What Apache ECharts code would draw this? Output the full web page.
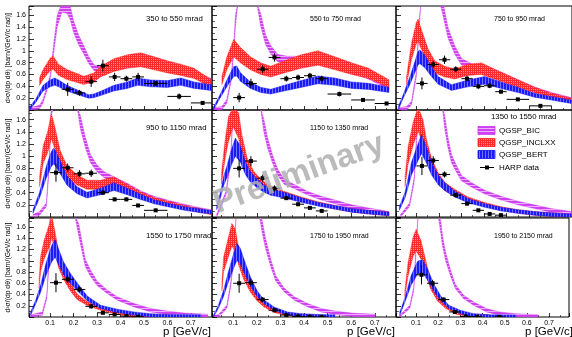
<!DOCTYPE html>
<html>
<head>
<meta charset="utf-8">
<script src="https://cdn.jsdelivr.net/npm/echarts@6/dist/echarts.min.js"></script>
<style>
  html, body { margin: 0; padding: 0; background: #fff; }
  #chart { width: 572px; height: 337px; }
</style>
</head>
<body>
<div id="chart"></div>
<script>
// model bands, knots [p (GeV/c), d2sigma/(dp dtheta)]
var bic350 = [[0.013,0.01],[0.055,0.05],[0.07,0.15],[0.1,0.55],[0.114,1.0],[0.13,1.5],[0.15,1.78],[0.172,1.76],[0.186,1.64],[0.2,1.41],[0.221,1.19],[0.243,1.02],[0.264,0.85],[0.286,0.72],[0.315,0.68],[0.372,0.76],[0.429,0.86],[0.486,0.88],[0.543,0.84],[0.6,0.76],[0.657,0.7],[0.714,0.62],[0.786,0.5]];
var incl350 = [[0.055,0.48],[0.07,0.6],[0.1,0.77],[0.113,0.8],[0.136,0.68],[0.172,0.6],[0.215,0.54],[0.243,0.5],[0.286,0.55],[0.315,0.65],[0.372,0.76],[0.429,0.82],[0.486,0.85],[0.543,0.79],[0.6,0.73],[0.657,0.68],[0.714,0.62],[0.786,0.45]];
var bert350 = [[0.013,0.02],[0.041,0.17],[0.07,0.37],[0.1,0.45],[0.12,0.48],[0.136,0.45],[0.172,0.37],[0.229,0.28],[0.264,0.23],[0.286,0.24],[0.315,0.28],[0.372,0.37],[0.429,0.42],[0.472,0.48],[0.529,0.45],[0.6,0.44],[0.657,0.48],[0.714,0.42],[0.786,0.38]];

var bic550 = [[0.016,0.01],[0.052,0.03],[0.073,0.15],[0.09,0.5],[0.102,1.0],[0.109,1.5],[0.12,2.2],[0.2,2.2],[0.216,1.53],[0.237,1.19],[0.259,1.02],[0.288,0.88],[0.33,0.85],[0.388,0.85],[0.459,0.88],[0.531,0.8],[0.602,0.68],[0.674,0.56],[0.76,0.38]];
var incl550 = [[0.052,0.5],[0.073,0.79],[0.102,1.05],[0.13,0.93],[0.173,0.79],[0.216,0.7],[0.259,0.65],[0.316,0.73],[0.388,0.82],[0.459,0.88],[0.531,0.79],[0.602,0.7],[0.674,0.62],[0.76,0.45]];
var bert550 = [[0.016,0.02],[0.044,0.23],[0.073,0.45],[0.102,0.65],[0.115,0.66],[0.13,0.56],[0.173,0.42],[0.216,0.34],[0.259,0.31],[0.316,0.37],[0.388,0.44],[0.459,0.51],[0.531,0.48],[0.602,0.42],[0.674,0.4],[0.76,0.34]];

var bic750 = [[0.02,0.01],[0.057,0.03],[0.079,0.12],[0.1,0.6],[0.11,1.3],[0.12,2.2],[0.205,2.2],[0.219,1.7],[0.241,1.3],[0.27,1.02],[0.3,0.82],[0.344,0.73],[0.403,0.7],[0.476,0.6],[0.55,0.48],[0.623,0.36],[0.697,0.27],[0.786,0.18]];
var incl750 = [[0.057,0.5],[0.079,1.0],[0.1,1.3],[0.108,1.35],[0.123,1.19],[0.153,0.9],[0.182,0.73],[0.226,0.65],[0.27,0.61],[0.329,0.68],[0.388,0.7],[0.476,0.56],[0.55,0.45],[0.623,0.34],[0.697,0.25],[0.786,0.17]];
var bert750 = [[0.02,0.03],[0.042,0.23],[0.072,0.5],[0.094,0.73],[0.108,0.88],[0.116,0.9],[0.138,0.82],[0.167,0.65],[0.197,0.5],[0.256,0.38],[0.329,0.45],[0.403,0.5],[0.476,0.42],[0.55,0.34],[0.623,0.25],[0.697,0.2],[0.786,0.14]];

var bic950 = [[0.027,0.01],[0.055,0.06],[0.084,0.2],[0.095,0.8],[0.105,1.8],[0.115,2.3],[0.215,2.3],[0.229,1.56],[0.25,1.23],[0.272,0.96],[0.3,0.8],[0.329,0.7],[0.372,0.62],[0.429,0.52],[0.486,0.4],[0.543,0.31],[0.6,0.25],[0.672,0.18],[0.743,0.12],[0.786,0.09]];
var incl950 = [[0.055,0.58],[0.07,1.02],[0.091,1.25],[0.105,1.5],[0.121,1.29],[0.143,0.96],[0.172,0.74],[0.215,0.61],[0.257,0.53],[0.315,0.53],[0.372,0.58],[0.429,0.47],[0.486,0.36],[0.543,0.28],[0.6,0.23],[0.672,0.16],[0.743,0.1],[0.786,0.07]];
var bert950 = [[0.027,0.09],[0.055,0.36],[0.084,0.74],[0.105,0.95],[0.114,1.0],[0.121,0.98],[0.143,0.82],[0.172,0.6],[0.215,0.44],[0.257,0.36],[0.315,0.42],[0.372,0.5],[0.429,0.42],[0.486,0.33],[0.543,0.25],[0.6,0.2],[0.672,0.14],[0.743,0.1],[0.786,0.08]];

var bic1150 = [[0.03,0.02],[0.044,0.15],[0.07,0.4],[0.09,1.0],[0.1,2.3],[0.215,2.3],[0.23,1.5],[0.245,1.23],[0.266,0.96],[0.288,0.74],[0.316,0.58],[0.359,0.5],[0.416,0.39],[0.473,0.31],[0.531,0.25],[0.602,0.17],[0.674,0.12],[0.76,0.06]];
var incl1150 = [[0.05,0.63],[0.066,1.12],[0.08,1.45],[0.1,1.72],[0.123,1.5],[0.137,1.18],[0.159,0.85],[0.187,0.66],[0.216,0.55],[0.259,0.44],[0.316,0.37],[0.388,0.29],[0.459,0.22],[0.531,0.16],[0.602,0.11],[0.674,0.08],[0.76,0.05]];
var bert1150 = [[0.03,0.15],[0.045,0.35],[0.06,0.6],[0.073,0.74],[0.094,1.0],[0.109,1.15],[0.13,1.04],[0.152,0.8],[0.173,0.66],[0.202,0.55],[0.23,0.47],[0.259,0.41],[0.316,0.36],[0.388,0.28],[0.459,0.21],[0.531,0.16],[0.602,0.11],[0.674,0.08],[0.76,0.05]];

var bic1350 = [[0.03,0.01],[0.07,0.2],[0.09,0.6],[0.1,1.2],[0.11,2.3],[0.215,2.3],[0.226,1.56],[0.24,1.23],[0.256,0.96],[0.277,0.8],[0.3,0.64],[0.344,0.53],[0.403,0.41],[0.476,0.31],[0.55,0.23],[0.623,0.17],[0.697,0.11],[0.786,0.06]];
var incl1350 = [[0.05,0.58],[0.064,1.02],[0.086,1.37],[0.108,1.64],[0.13,1.4],[0.145,1.12],[0.167,0.85],[0.197,0.64],[0.226,0.5],[0.27,0.4],[0.329,0.29],[0.403,0.21],[0.476,0.14],[0.55,0.09],[0.623,0.06],[0.697,0.04],[0.786,0.02]];
var bert1350 = [[0.025,0.14],[0.05,0.36],[0.079,0.8],[0.108,1.07],[0.123,1.2],[0.145,1.02],[0.167,0.8],[0.197,0.61],[0.226,0.5],[0.27,0.38],[0.329,0.27],[0.403,0.19],[0.476,0.13],[0.55,0.09],[0.623,0.06],[0.697,0.04],[0.786,0.02]];

var bic1550 = [[0.017,0.01],[0.067,0.06],[0.086,0.36],[0.095,1.0],[0.1,2.3],[0.205,2.3],[0.222,1.55],[0.236,1.25],[0.25,0.96],[0.272,0.78],[0.3,0.6],[0.343,0.45],[0.386,0.33],[0.458,0.21],[0.529,0.12],[0.6,0.075],[0.672,0.04],[0.772,0.02]];
var incl1550 = [[0.053,0.6],[0.06,0.95],[0.074,1.19],[0.1,1.49],[0.107,1.65],[0.122,1.31],[0.136,1.02],[0.157,0.78],[0.186,0.54],[0.215,0.36],[0.258,0.24],[0.315,0.15],[0.386,0.075],[0.458,0.03],[0.529,0.015],[0.6,0.01]];
var bert1550 = [[0.017,0.06],[0.039,0.27],[0.06,0.51],[0.082,0.84],[0.1,1.05],[0.107,1.13],[0.122,1.22],[0.136,1.07],[0.157,0.87],[0.186,0.69],[0.215,0.54],[0.258,0.33],[0.315,0.18],[0.386,0.11],[0.458,0.06],[0.529,0.03],[0.6,0.015],[0.743,0.01]];

var bic1750 = [[0.016,0.0],[0.037,0.01],[0.073,0.18],[0.09,0.6],[0.105,1.2],[0.112,2.3],[0.21,2.3],[0.223,1.6],[0.237,1.31],[0.259,0.96],[0.28,0.69],[0.316,0.48],[0.359,0.33],[0.416,0.21],[0.473,0.12],[0.531,0.075],[0.602,0.04],[0.702,0.02]];
var incl1750 = [[0.052,0.54],[0.059,0.93],[0.08,1.25],[0.094,1.46],[0.109,1.37],[0.123,1.07],[0.144,0.78],[0.173,0.51],[0.202,0.33],[0.23,0.21],[0.273,0.11],[0.33,0.05],[0.388,0.025],[0.46,0.01]];
var bert1750 = [[0.016,0.0],[0.037,0.18],[0.059,0.42],[0.08,0.72],[0.102,1.0],[0.116,1.16],[0.13,1.08],[0.152,0.84],[0.173,0.63],[0.202,0.41],[0.23,0.27],[0.273,0.15],[0.33,0.06],[0.388,0.03],[0.459,0.015],[0.531,0.01]];

var bic1950 = [[0.027,0.0],[0.072,0.18],[0.09,0.5],[0.1,1.2],[0.11,2.3],[0.2,2.3],[0.212,1.6],[0.219,1.37],[0.234,1.07],[0.256,0.78],[0.278,0.54],[0.314,0.36],[0.359,0.24],[0.418,0.12],[0.476,0.06],[0.55,0.03],[0.65,0.01]];
var incl1950 = [[0.05,0.42],[0.064,0.84],[0.087,1.25],[0.101,1.37],[0.123,1.19],[0.145,0.87],[0.167,0.57],[0.197,0.33],[0.234,0.18],[0.285,0.075],[0.344,0.03],[0.43,0.01]];
var bert1950 = [[0.027,0.06],[0.05,0.3],[0.079,0.66],[0.108,0.88],[0.13,0.9],[0.153,0.75],[0.182,0.51],[0.212,0.33],[0.248,0.18],[0.3,0.09],[0.359,0.03],[0.432,0.01],[0.55,0.005]];

// HARP data: [p, value, p half-width, value error]
var harp350 = [[0.175,0.35,0.025,0.11],[0.225,0.29,0.025,0.05],[0.275,0.48,0.025,0.09],[0.325,0.75,0.025,0.1],[0.375,0.56,0.025,0.07],[0.425,0.53,0.025,0.05],[0.475,0.56,0.025,0.07],[0.55,0.45,0.05,0.04],[0.65,0.23,0.05,0.05],[0.75,0.12,0.05,0.03]];
var harp550 = [[0.125,0.21,0.025,0.08],[0.175,0.45,0.025,0.08],[0.225,0.69,0.025,0.07],[0.275,0.89,0.025,0.07],[0.325,0.53,0.025,0.05],[0.375,0.55,0.025,0.05],[0.425,0.58,0.025,0.05],[0.475,0.53,0.025,0.05],[0.55,0.27,0.05,0.04],[0.65,0.17,0.05,0.03],[0.75,0.11,0.05,0.02]];
var harp750 = [[0.125,0.45,0.025,0.1],[0.175,0.77,0.025,0.06],[0.225,0.85,0.025,0.07],[0.275,0.69,0.025,0.05],[0.325,0.53,0.025,0.05],[0.375,0.4,0.025,0.04],[0.425,0.41,0.025,0.04],[0.475,0.31,0.025,0.03],[0.55,0.18,0.05,0.02],[0.65,0.07,0.05,0.015]];
var harp950 = [[0.125,0.73,0.025,0.15],[0.175,0.81,0.025,0.07],[0.225,0.71,0.025,0.06],[0.275,0.72,0.025,0.06],[0.325,0.4,0.025,0.04],[0.375,0.29,0.025,0.03],[0.425,0.29,0.025,0.03],[0.475,0.19,0.025,0.02],[0.55,0.11,0.05,0.015]];
var harp1150 = [[0.125,0.8,0.025,0.15],[0.175,0.92,0.025,0.08],[0.225,0.64,0.025,0.06],[0.275,0.47,0.025,0.05],[0.325,0.31,0.025,0.03],[0.375,0.21,0.025,0.03],[0.425,0.15,0.025,0.02],[0.475,0.1,0.025,0.02]];
var harp1350 = [[0.125,0.84,0.025,0.15],[0.175,0.93,0.025,0.07],[0.225,0.7,0.025,0.05],[0.275,0.36,0.025,0.04],[0.325,0.22,0.025,0.03],[0.375,0.11,0.025,0.02],[0.425,0.05,0.025,0.01],[0.475,0.03,0.025,0.01]];
var harp1550 = [[0.125,0.61,0.025,0.17],[0.175,0.67,0.025,0.07],[0.225,0.49,0.025,0.05],[0.275,0.19,0.025,0.04],[0.325,0.075,0.025,0.02],[0.375,0.045,0.025,0.015],[0.425,0.015,0.025,0.01],[0.475,0.005,0.025,0.005]];
var harp1750 = [[0.125,0.6,0.025,0.17],[0.175,0.61,0.025,0.07],[0.225,0.31,0.025,0.04],[0.275,0.12,0.025,0.02],[0.325,0.035,0.025,0.01],[0.375,0.01,0.025,0.005],[0.425,0.005,0.025,0.005],[0.475,0.002,0.025,0.002]];
var harp1950 = [[0.125,0.75,0.025,0.17],[0.175,0.6,0.025,0.06],[0.225,0.31,0.025,0.04],[0.275,0.09,0.025,0.02],[0.325,0.01,0.025,0.005],[0.375,0.005,0.025,0.005],[0.475,0.002,0.025,0.002]];

var panelLabels = ['350 to 550 mrad', '550 to 750 mrad', '750 to 950 mrad',
                   '950 to 1150 mrad', '1150 to 1350 mrad', '1350 to 1550 mrad',
                   '1550 to 1750 mrad', '1750 to 1950 mrad', '1950 to 2150 mrad'];
var bicBands = [bic350, bic550, bic750, bic950, bic1150, bic1350, bic1550, bic1750, bic1950];
var inclBands = [incl350, incl550, incl750, incl950, incl1150, incl1350, incl1550, incl1750, incl1950];
var bertBands = [bert350, bert550, bert750, bert950, bert1150, bert1350, bert1550, bert1750, bert1950];
var harpPoints = [harp350, harp550, harp750, harp950, harp1150, harp1350, harp1550, harp1750, harp1950];
var xTickLabels = ['0.1', '0.2', '0.3', '0.4', '0.5', '0.6', '0.7'];

var modelNames = ['QGSP_BIC', 'QGSP_INCLXX', 'QGSP_BERT'];
var relErr = [0.07, 0.14, 0.13];   // band half width, relative

// layout of the 3x3 pads
var colLeft = [29, 212, 396], colWidth = [183, 184, 177];
var rowTop = [6, 110, 218], rowHeight = [104, 107, 99];
var X_MIN = 0.01, X_MAX = 0.79, Y_MAX = 1.76;

function hatch(base, line, kind) {
  var n = kind === 'd' ? 2 : 3;
  var c = document.createElement('canvas');
  c.width = n; c.height = n;
  var g = c.getContext('2d');
  g.fillStyle = base; g.fillRect(0, 0, n, n);
  g.fillStyle = line;
  if (kind === 'v') g.fillRect(2, 0, 1, 3);
  else if (kind === 'h') g.fillRect(0, 2, 3, 1);
  else g.fillRect(1, 1, 1, 1);
  return { image: c, repeat: 'repeat' };
}
var fills = [hatch('#d040f2', '#eeb0fa', 'h'), hatch('#ff2a2a', '#ff9494', 'd'), hatch('#1a1aff', '#7272ff', 'v')];
var strokes = ['#c838ec', '#ff2020', '#1010ee'];

function bandRender(knots, rel, fill, stroke) {
  return function (params, api) {
    var up = [], lo = [];
    knots.forEach(function (k) {
      var h = Math.max(k[1] * rel, 0.03);
      var top = Math.min(k[1] + h, Y_MAX + 0.05), bot = Math.min(Math.max(k[1] - h, 0), Y_MAX + 0.05);
      up.push(api.coord([k[0], top]));
      lo.unshift(api.coord([k[0], bot]));
    });
    return { type: 'polygon', shape: { points: up.concat(lo) },
             style: { fill: fill, stroke: stroke, lineWidth: 0.4 } };
  };
}

function harpRender(params, api) {
  var p = api.value(0), v = api.value(1), dp = api.value(2), dv = api.value(3);
  var c = api.coord([p, v]);
  var l = api.coord([p - dp, v]), r = api.coord([p + dp, v]);
  var t = api.coord([p, v + dv]), b = api.coord([p, Math.max(v - dv, 0)]);
  return { type: 'group', children: [
    { type: 'line', shape: { x1: l[0], y1: l[1], x2: r[0], y2: r[1] }, style: { stroke: '#000', lineWidth: 1 } },
    { type: 'line', shape: { x1: t[0], y1: t[1], x2: b[0], y2: b[1] }, style: { stroke: '#000', lineWidth: 1 } },
    { type: 'rect', shape: { x: c[0] - 2, y: c[1] - 2, width: 4, height: 4 }, style: { fill: '#000' } }
  ] };
}

var grids = [], xAxes = [], yAxes = [], series = [], graphics = [];
for (var i = 0; i < 9; i++) {
  var row = Math.floor(i / 3), col = i % 3;
  grids.push({ left: colLeft[col], top: rowTop[row], width: colWidth[col], height: rowHeight[row],
               show: true, borderColor: '#000', borderWidth: 1, backgroundColor: 'transparent' });
  xAxes.push({
    type: 'value', gridIndex: i, min: X_MIN, max: X_MAX, splitNumber: 8,
    axisLine: { show: false }, splitLine: { show: false },
    axisTick: { inside: true, length: 4, lineStyle: { color: '#000', width: 0.8 } },
    minorTick: { show: true, splitNumber: 2, length: 2, lineStyle: { color: '#000', width: 0.6 } },
    axisLabel: { show: row === 2, fontSize: 7, color: '#000', margin: 3, fontFamily: 'Liberation Sans',
      formatter: function (v) {
        var k = Math.round(v * 10);
        return (Math.abs(v * 10 - k) < 1e-6 && k >= 1 && k <= 7) ? xTickLabels[k - 1] : '';
      } }
  });
  yAxes.push({
    type: 'value', gridIndex: i, min: 0, max: Y_MAX, interval: 0.2,
    axisLine: { show: false }, splitLine: { show: false },
    axisTick: { inside: true, length: 5, lineStyle: { color: '#000', width: 0.8 } },
    minorTick: { show: true, splitNumber: 2, length: 3, lineStyle: { color: '#000', width: 0.6 } },
    name: col === 0 ? 'd\u00B2\u03C3/(dp d\u03B8) [barn/(GeV/c rad)]' : '',
    nameLocation: 'middle', nameRotate: 90, nameGap: 17,
    nameTextStyle: { fontSize: 6.8, color: '#000', fontFamily: 'Liberation Sans' },
    axisLabel: { show: col === 0, fontSize: 7, color: '#000', margin: 3, fontFamily: 'Liberation Sans',
      formatter: function (v) {
        var k = Math.round(v * 10);
        if (Math.abs(v * 10 - k) > 1e-6 || k <= 0 || k > 16) return '';
        return k === 10 ? '1' : (k / 10).toFixed(1);
      } }
  });
  [bicBands, inclBands, bertBands].forEach(function (set, m) {
    series.push({ type: 'custom', name: modelNames[m], xAxisIndex: i, yAxisIndex: i, clip: true, silent: true,
                  z: 2 + m, data: [set[i][0]], renderItem: bandRender(set[i], relErr[m], fills[m], strokes[m]) });
  });
  series.push({ type: 'custom', name: 'HARP data', xAxisIndex: i, yAxisIndex: i, clip: true, silent: true,
                z: 6, data: harpPoints[i], renderItem: harpRender });

  // bin label in each pad
  if (i !== 5) {
    var ly = row === 0 ? 19 : (row === 1 ? 128 : 236);
    graphics.push({ type: 'text', x: colLeft[col] + (col === 0 ? 117 : 98), y: ly, z: 20,
      style: { text: panelLabels[i], fontSize: col === 0 ? 7.8 : 7, fontFamily: 'Liberation Sans', fill: '#000',
               verticalAlign: 'middle' } });
  }
}

// x titles
for (var c2 = 0; c2 < 3; c2++) {
  graphics.push({ type: 'text', x: colLeft[c2] + colWidth[c2] - (c2 === 2 ? 0 : 1), y: 326, z: 20,
    style: { text: 'p [GeV/c]', fontSize: 11.5, fontFamily: 'Liberation Sans', fill: '#000', align: 'right' } });
}

// legend box in the 1350-1550 pad
var legY = [130.5, 142.5, 154.5, 167.5];
graphics.push({ type: 'rect', shape: { x: 472, y: 111, width: 95, height: 65 }, style: { fill: '#fff' }, z: 30 });
graphics.push({ type: 'text', x: 491, y: 117, z: 31,
  style: { text: panelLabels[5], fontSize: 7.8, fontFamily: 'Liberation Sans', fill: '#000', verticalAlign: 'middle' } });
for (var m = 0; m < 3; m++) {
  graphics.push({ type: 'rect', shape: { x: 478, y: legY[m] - 4, width: 17, height: 8 },
    style: { fill: fills[m], stroke: strokes[m], lineWidth: 0.8 }, z: 31 });
  graphics.push({ type: 'text', x: 499, y: legY[m], z: 31,
    style: { text: modelNames[m], fontSize: 8, fontFamily: 'Liberation Sans', fill: '#000', verticalAlign: 'middle' } });
}
graphics.push({ type: 'line', shape: { x1: 480, y1: legY[3], x2: 494, y2: legY[3] }, style: { stroke: '#000', lineWidth: 1 }, z: 31 });
graphics.push({ type: 'rect', shape: { x: 485, y: legY[3] - 2, width: 4, height: 4 }, style: { fill: '#000' }, z: 31 });
graphics.push({ type: 'text', x: 499, y: legY[3], z: 31,
  style: { text: 'HARP data', fontSize: 8, fontFamily: 'Liberation Sans', fill: '#000', verticalAlign: 'middle' } });

// watermark
graphics.push({ type: 'text', x: 299, y: 174, rotation: 0.35, z: 40,
  style: { text: 'Preliminary', font: 'bold 33px "Liberation Sans"', fill: 'rgba(175,175,175,0.85)',
           align: 'center', verticalAlign: 'middle' } });

var chart = echarts.init(document.getElementById('chart'), null, { renderer: 'canvas' });
chart.setOption({
  animation: false,
  grid: grids,
  xAxis: xAxes,
  yAxis: yAxes,
  series: series,
  graphic: { elements: graphics }
});
</script>
</body>
</html>
